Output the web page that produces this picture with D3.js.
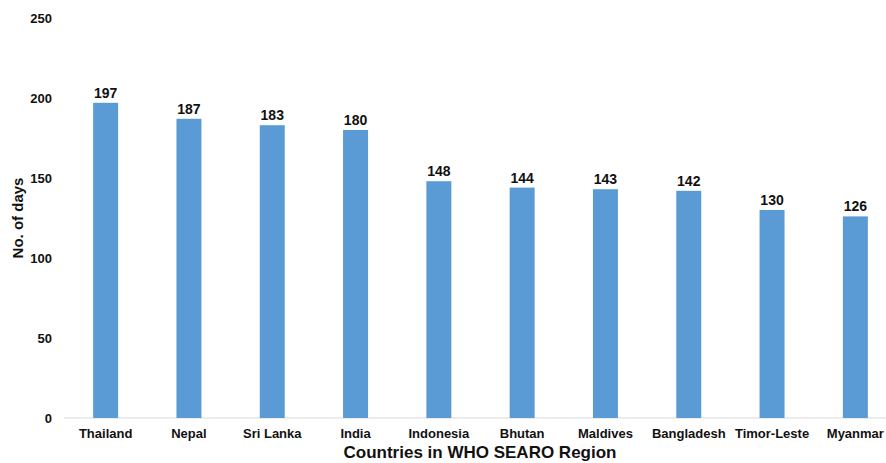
<!DOCTYPE html>
<html>
<head>
<meta charset="utf-8">
<script src="https://cdn.jsdelivr.net/npm/d3@7"></script>
<style>
	body { margin: 0; background: #fff; }
	text { font-family: "Liberation Sans", Arial, sans-serif; font-weight: bold; fill: #111; }
</style>
</head>
<body>
<svg id="chart" width="886" height="463"></svg>
<script>
var countries = ['Thailand', 'Nepal', 'Sri Lanka', 'India', 'Indonesia', 'Bhutan', 'Maldives', 'Bangladesh', 'Timor-Leste', 'Myanmar'];
var days = [197, 187, 183, 180, 148, 144, 143, 142, 130, 126];
var yTicks = [0, 50, 100, 150, 200, 250];

var svg = d3.select('#chart');

var x = d3.scaleBand()
	.domain(countries)
	.range([64, 897])
	.paddingInner(0.7)
	.paddingOuter(0.35);

var y = d3.scaleLinear()
	.domain([0, 250])
	.range([418, 18]);

// baseline
svg.append('line')
	.attr('x1', 64).attr('x2', 886)
	.attr('y1', y(0)).attr('y2', y(0))
	.style('stroke', '#d9d9d9')
	.style('stroke-width', 1);

// y tick labels
svg.selectAll('text.ytick')
	.data(yTicks)
	.enter()
	.append('text')
	.attr('class', 'ytick')
	.attr('x', 52)
	.attr('y', function(d) { return y(d); })
	.attr('dy', '0.35em')
	.attr('text-anchor', 'end')
	.style('font-size', '13px')
	.text(function(d) { return d; });

// bars
svg.selectAll('rect.bar')
	.data(days)
	.enter()
	.append('rect')
	.attr('class', 'bar')
	.attr('x', function(d, i) { return x(countries[i]); })
	.attr('width', x.bandwidth())
	.attr('y', function(d) { return y(d); })
	.attr('height', function(d) { return y(0) - y(d); })
	.style('fill', '#5b9bd5');

// value labels
svg.selectAll('text.val')
	.data(days)
	.enter()
	.append('text')
	.attr('class', 'val')
	.attr('x', function(d, i) { return x(countries[i]) + x.bandwidth() / 2; })
	.attr('y', function(d) { return y(d) - 5; })
	.attr('text-anchor', 'middle')
	.style('font-size', '14px')
	.text(function(d) { return d; });

// x tick labels
svg.selectAll('text.xtick')
	.data(countries)
	.enter()
	.append('text')
	.attr('class', 'xtick')
	.attr('x', function(d) { return x(d) + x.bandwidth() / 2; })
	.attr('y', 438)
	.attr('text-anchor', 'middle')
	.style('font-size', '13px')
	.text(function(d) { return d; });

// axis titles
svg.append('text')
	.attr('x', 480)
	.attr('y', 458)
	.attr('text-anchor', 'middle')
	.style('font-size', '17px')
	.text('Countries in WHO SEARO Region');

svg.append('text')
	.attr('transform', 'translate(23,218) rotate(-90)')
	.attr('text-anchor', 'middle')
	.style('font-size', '15px')
	.text('No. of days');
</script>
</body>
</html>
